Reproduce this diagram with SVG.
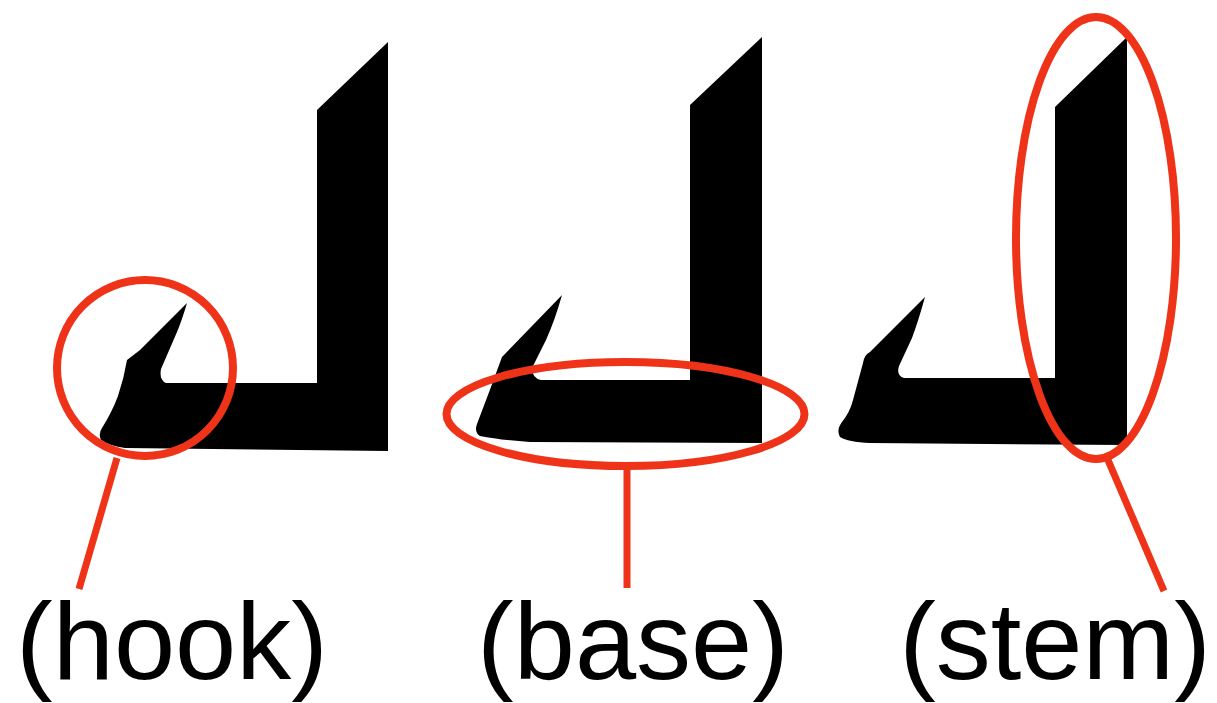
<svg xmlns="http://www.w3.org/2000/svg" width="1217" height="703" viewBox="0 0 1217 703">
<style>
.glyph{fill:#000;stroke:none}
.mark{fill:none;stroke:#ee3318;stroke-width:8}
.conn{fill:none;stroke:#ee3318;stroke-width:7}
.lbl{font-family:"Liberation Sans",Arial,sans-serif;font-size:110px;fill:#000;text-anchor:middle}
</style>
<rect width="1217" height="703" fill="#fff"/>
<g id="letter-hook">
<path class="glyph" d="M317,110 L388,42 L388,451 L125,448 Q110,446 101,440 Q98,434 102,428 Q112,412 118,396 Q124,378 127,360 L140,350 L187,303 Q182,320 177,332 L161,369 Q159,380 166,383 L317,383 Z"/>
</g>
<g id="letter-base">
<path class="glyph" d="M690,105 L762,37 L762,443 L530,442 Q500,440 480,436 Q474,432 477,424 Q490,390 502,357 L562,295 Q555,320 546,340 L532,368 Q532,378 541,380 L690,380 Z"/>
</g>
<g id="letter-stem">
<path class="glyph" d="M1055,107 L1127,37 L1127,445 L870,443 Q848,442 840,437 Q836,430 842,422 Q850,412 853,400 L863,363 Q864,355 870,352 L925,297 Q918,322 912,338 L899,366 Q896,376 904,378 L1055,378 Z"/>
</g>
<g id="callouts">
<circle id="hook-mark" class="mark" cx="145" cy="368" r="88"/>
<ellipse id="base-mark" class="mark" cx="625.5" cy="414" rx="179" ry="52"/>
<ellipse id="stem-mark" class="mark" cx="1096" cy="238" rx="80" ry="221"/>
</g>
<g id="connectors">
<line class="conn" x1="117" y1="458" x2="79" y2="589"/>
<line class="conn" x1="627" y1="468" x2="627" y2="588"/>
<line class="conn" x1="1108" y1="460" x2="1164" y2="591"/>
</g>
<g id="labels">
<text class="lbl" x="172" y="679">(hook)</text>
<text class="lbl" x="633" y="679">(base)</text>
<text class="lbl" x="1055" y="679">(stem)</text>
</g>
</svg>
